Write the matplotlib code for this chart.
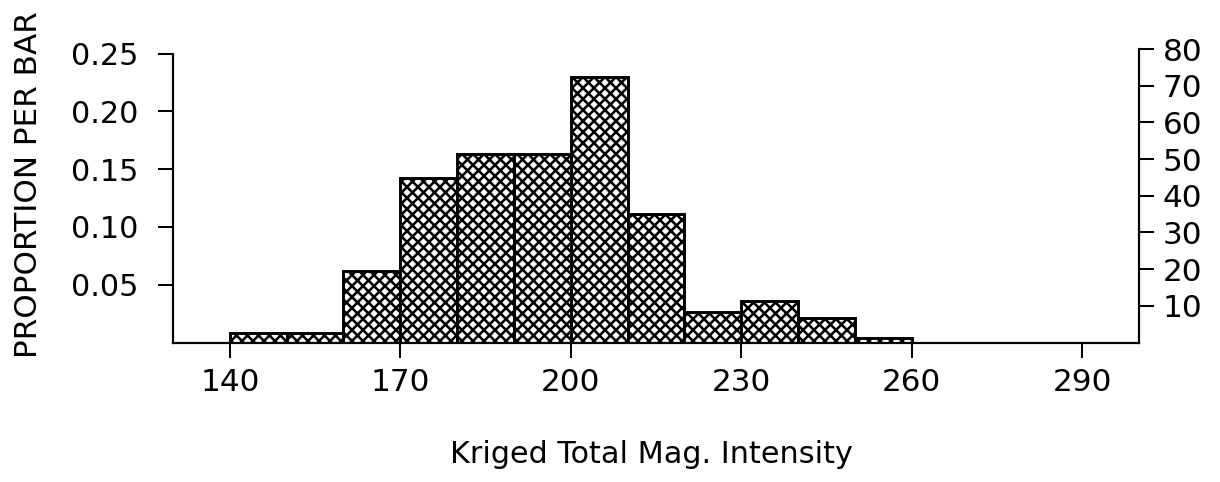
import numpy as np
import matplotlib.pyplot as plt

plt.rcParams['font.family'] = ['DejaVu Sans']
plt.rcParams['hatch.linewidth'] = 1.4
plt.rcParams['hatch.color'] = 'black'

# Datos
limites_clase = [140, 150, 160, 170, 180, 190, 200, 210, 220, 230, 240, 250, 260]
proporcion = [0.008, 0.008, 0.062, 0.142, 0.163, 0.163, 0.230, 0.111, 0.026, 0.036, 0.021, 0.004]
conteo_por_unidad = 315  # escala del eje derecho (conteos por unidad de proporcion)

ticks_x = [140, 170, 200, 230, 260, 290]
ticks_prop = [0.05, 0.10, 0.15, 0.20, 0.25]
etiquetas_prop = ['0.05', '0.10', '0.15', '0.20', '0.25']
ticks_conteo = [10, 20, 30, 40, 50, 60, 70, 80]

DPI = 132
W, H = 1220, 482
fig = plt.figure(figsize=(W / DPI, H / DPI), dpi=DPI)
ax = fig.add_axes([173 / W, (H - 342.5) / H, 966 / W, (342.5 - 49) / H])

anchos = np.diff(limites_clase)
ax.bar(limites_clase[:-1], proporcion, width=anchos, align='edge',
       facecolor='white', edgecolor='black', linewidth=1.6, hatch='xxxx')

ax.set_xlim(130, 300)
ax.set_ylim(0, ticks_conteo[-1] / conteo_por_unidad)

for s in ['top', 'right']:
    ax.spines[s].set_visible(False)
for s in ['left', 'bottom']:
    ax.spines[s].set_linewidth(1.2)
ax.spines['left'].set_bounds(0, 0.25)

ax.set_xticks(ticks_x)
ax.set_yticks(ticks_prop)
ax.set_yticklabels(etiquetas_prop)
ax.tick_params(axis='x', direction='out', length=8, width=1.1, pad=6, labelsize=17)
ax.tick_params(axis='y', direction='out', length=8, width=1.1, pad=11, labelsize=16.5)

ax2 = ax.twinx()
ax2.set_ylim(0, ticks_conteo[-1])
for s in ['top', 'left', 'bottom']:
    ax2.spines[s].set_visible(False)
ax2.spines['right'].set_linewidth(1.2)
ax2.spines['right'].set_bounds(0, ticks_conteo[-1])
ax2.set_yticks(ticks_conteo)
ax2.tick_params(axis='y', direction='out', length=8, width=1.1, pad=5, labelsize=17)

fig.text(651 / W, 19 / H, 'Kriged Total Mag. Intensity', ha='center', va='baseline', fontsize=16.5)
fig.text(37 / W, (H - 185) / H, 'PROPORTION PER BAR', rotation=90, rotation_mode='anchor',
         ha='center', va='baseline', fontsize=17)

fig.savefig('out.png', dpi=DPI)
